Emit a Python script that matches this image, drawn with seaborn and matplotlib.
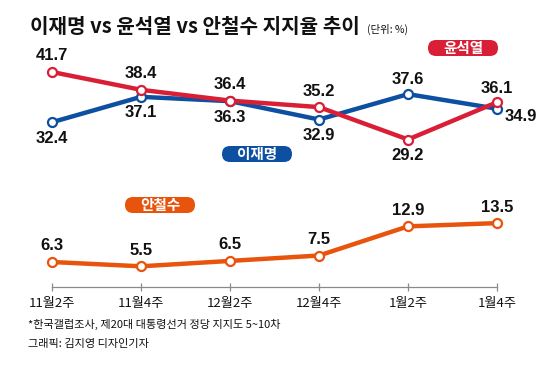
import numpy as np
import pandas as pd
import matplotlib
matplotlib.use('Agg')
import matplotlib.pyplot as plt
from matplotlib.patches import FancyBboxPatch
import seaborn as sns

# Data
weeks = ['11월2주', '11월4주', '12월2주', '12월4주', '1월2주', '1월4주']
lee = [32.4, 37.1, 36.3, 32.9, 37.6, 34.9]
yoon = [41.7, 38.4, 36.4, 35.2, 29.2, 36.1]
ahn = [6.3, 5.5, 6.5, 7.5, 12.9, 13.5]

title = '이재명 vs 윤석열 vs 안철수 지지율 추이'
unit = '(단위: %)'
notes = ['*한국갤럽조사, 제20대 대통령선거 정당 지지도 5~10차', '그래픽: 김지영 디자인기자']

BLUE = '#0d4fa0'
RED = '#d91f36'
ORANGE = '#e8540c'

sns.set_theme(style='white')
plt.rcParams['font.family'] = ['Noto Sans CJK KR', 'DejaVu Sans']
NUM_FONT = ['Liberation Sans Narrow', 'Liberation Sans']

W, H = 560, 365
fig = plt.figure(figsize=(W / 100, H / 100), dpi=100)


def rect(x0, y0, x1, y1):
    # pixel box (top-left origin) -> figure fraction rect
    return [x0 / W, 1 - y1 / H, (x1 - x0) / W, (y1 - y0) / H]


XLIM = (-32 / 89, 5 + 43 / 89)
PX = 5.4  # pixels per percentage point

top = fig.add_axes(rect(20, 40, 540, 170))
bot = fig.add_axes(rect(20, 185, 540, 287))

df_top = pd.DataFrame({'idx': list(range(6)) * 2,
                       'val': lee + yoon,
                       'who': ['이재명'] * 6 + ['윤석열'] * 6})
df_bot = pd.DataFrame({'idx': range(6), 'val': ahn, 'who': '안철수'})

mk = dict(marker='o', markersize=6.5, markerfacecolor='white',
          markeredgewidth=1.6, linewidth=3.2)
sns.lineplot(data=df_top, x='idx', y='val', hue='who',
             palette={'이재명': BLUE, '윤석열': RED}, legend=False, ax=top, **mk)
for line in top.lines:
    line.set_markeredgecolor(line.get_color())
sns.lineplot(data=df_bot, x='idx', y='val', color=ORANGE, legend=False, ax=bot, **mk)
bot.lines[0].set_markeredgecolor(ORANGE)

top.set_xlim(*XLIM)
top.set_ylim(41.7 - (170 - 72) / PX, 41.7 + (72 - 40) / PX)
bot.set_xlim(*XLIM)
bot.set_ylim(6.3 - (287 - 262) / PX, 6.3 + (262 - 185) / PX)

for ax in (top, bot):
    ax.set_facecolor('none')
    ax.set_xlabel('')
    ax.set_ylabel('')
    ax.set_yticks([])
    for s in ax.spines.values():
        s.set_visible(False)
top.set_xticks([])

bot.spines['bottom'].set_visible(True)
bot.spines['bottom'].set_bounds(0, 5)
bot.spines['bottom'].set_color('#8a8a8a')
bot.spines['bottom'].set_linewidth(0.9)
bot.set_xticks(range(6))
bot.set_xticklabels(weeks, fontsize=9.5, color='#111111')
bot.tick_params(axis='x', direction='inout', length=6, width=0.9,
                color='#8a8a8a', pad=4, bottom=True)

# value labels (offsets in pixels)
lee_off = [(0, -16), (0, -16), (0, -16), (0, -16), (0, 15), (24, -8)]
yoon_off = [(0, 16), (0, 16), (0, 16), (0, 16), (0, -16), (0, 14)]
ahn_off = [(0, 16)] * 6
for ax, vals, offs in ((top, lee, lee_off), (top, yoon, yoon_off), (bot, ahn, ahn_off)):
    for i, (v, o) in enumerate(zip(vals, offs)):
        ax.annotate(f'{v:.1f}', (i, v), xytext=o, textcoords='offset pixels',
                    ha='center', va='center', fontsize=12, fontweight='bold',
                    family=NUM_FONT, color='#111111')

# name badges
def badge(cx, cy, text, color):
    w, h = 70, 16
    p = FancyBboxPatch(((cx - w / 2) / 100, (H - cy - h / 2) / 100), w / 100, h / 100,
                       boxstyle='round,pad=0,rounding_size=0.08',
                       transform=fig.dpi_scale_trans, facecolor=color,
                       edgecolor='none', zorder=5)
    fig.add_artist(p)
    fig.text(cx / W, 1 - cy / H, text, ha='center', va='center', color='white',
             fontsize=10.5, fontweight='bold', zorder=6)


badge(463, 48, '윤석열', RED)
badge(257, 154, '이재명', BLUE)
badge(160, 205, '안철수', ORANGE)

fig.text(30 / W, 1 - 33 / H, title, fontsize=14.5, fontweight='bold',
         color='#111111', va='baseline')
fig.text(367 / W, 1 - 33 / H, unit, fontsize=7.5, color='#111111', va='baseline')

fig.text(28 / W, 1 - 324 / H, notes[0], fontsize=8, color='#111111', va='center')
fig.text(28 / W, 1 - 344 / H, notes[1], fontsize=8, color='#111111', va='center')

fig.savefig('out.png', dpi=100)
